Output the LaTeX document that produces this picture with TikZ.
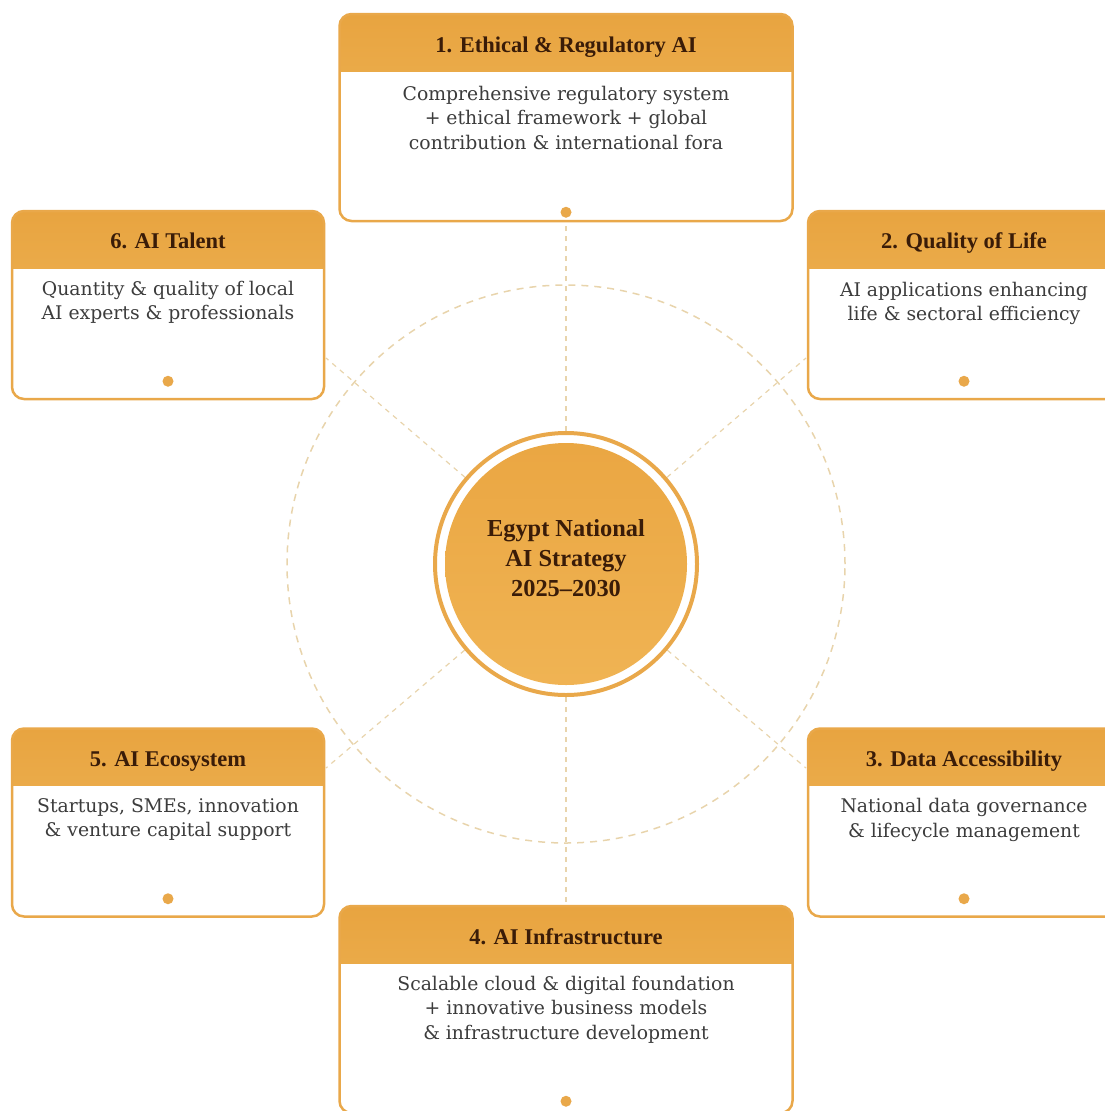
\documentclass[tikz,border=0pt]{standalone}
\usepackage{fontspec}
\setmainfont{DejaVu Serif}
\newfontfamily\headfont[Ligatures=TeX]{Liberation Serif}
\usepackage{xcolor}
\usepackage{tikz}
\usetikzlibrary{positioning,backgrounds}

\definecolor{amber}{RGB}{233,168,74}
\definecolor{hdrtop}{RGB}{232,164,64}
\definecolor{hdrbot}{RGB}{241,186,94}
\definecolor{hubtop}{RGB}{234,166,66}
\definecolor{hubbot}{RGB}{240,180,84}
\definecolor{titlebrown}{RGB}{58,28,8}
\definecolor{bodygray}{RGB}{60,60,60}
\definecolor{dashtan}{RGB}{232,212,172}

\begin{document}
\begin{tikzpicture}[x=1pt,y=-1pt,
    pillar/.style={rectangle,rounded corners=12pt,draw=amber,line width=2.5pt,fill=white,inner sep=0pt,
        path picture={\fill[sharp corners,top color=hdrtop,bottom color=hdrbot]
            (path picture bounding box.north west) rectangle ([yshift=-57pt]path picture bounding box.north east);}},
    widebox/.style={pillar,minimum width=453pt,minimum height=207pt},
    narrowbox/.style={pillar,minimum width=312pt,minimum height=188pt},
    ttl/.style={font=\headfont\bfseries\fontsize{22.5}{27}\selectfont,text=titlebrown,anchor=base,inner sep=0pt},
    txt/.style={font=\fontsize{18.8}{24.5}\selectfont,text=bodygray,align=center,anchor=north,inner sep=0pt},
    dot/.style={circle,fill=amber,minimum size=11pt,inner sep=0pt},
    hub/.style={circle,draw=amber,line width=4pt,fill=white,minimum size=262pt,inner sep=0pt,
        path picture={\shade[top color=hubtop,bottom color=hubbot]
            (path picture bounding box.center) circle (121pt);}},
    hubtext/.style={align=center,text=titlebrown,inner sep=0pt,font=\headfont\bfseries\fontsize{24.4}{30}\selectfont},
    spoke/.style={draw=dashtan,line width=1.2pt,dash pattern=on 5pt off 5pt},
    ring/.style={draw=dashtan,line width=1.5pt,dash pattern=on 7pt off 6pt}]

    \useasboundingbox (0,0) rectangle (1105,1111);

    \node[hub] (hub) at (566,564) {};
    \node[hubtext,yshift=6pt] (hubtxt) at (hub) {Egypt National\\AI Strategy\\2025--2030};

    \node[widebox] (b1) at (566,117.5) {};
    \node[ttl,yshift=-40pt] (t1) at (b1.north) {1. Ethical \& Regulatory AI};
    \node[txt,yshift=-73pt] (s1) at (b1.north) {Comprehensive regulatory system\\+ ethical framework + global\\contribution \& international fora};
    \node[dot,yshift=10pt] (d1) at (b1.south) {};

    \node[narrowbox] (b2) at (964,305) {};
    \node[ttl,yshift=-39pt] (t2) at (b2.north) {2. Quality of Life};
    \node[txt,yshift=-72pt] (s2) at (b2.north) {AI applications enhancing\\life \& sectoral efficiency};
    \node[dot,yshift=19pt] (d2) at (b2.south) {};

    \node[narrowbox] (b3) at (964,822.5) {};
    \node[ttl,yshift=-39pt] (t3) at (b3.north) {3. Data Accessibility};
    \node[txt,yshift=-71pt] (s3) at (b3.north) {National data governance\\\& lifecycle management};
    \node[dot,yshift=19pt] (d3) at (b3.south) {};

    \node[widebox] (b4) at (566,1009.5) {};
    \node[ttl,yshift=-40pt] (t4) at (b4.north) {4. AI Infrastructure};
    \node[txt,yshift=-71pt] (s4) at (b4.north) {Scalable cloud \& digital foundation\\+ innovative business models\\\& infrastructure development};
    \node[dot,yshift=13pt] (d4) at (b4.south) {};

    \node[narrowbox] (b5) at (168,822.5) {};
    \node[ttl,yshift=-39pt] (t5) at (b5.north) {5. AI Ecosystem};
    \node[txt,yshift=-71pt] (s5) at (b5.north) {Startups, SMEs, innovation\\\& venture capital support};
    \node[dot,yshift=19pt] (d5) at (b5.south) {};

    \node[narrowbox] (b6) at (168,305) {};
    \node[ttl,yshift=-39pt] (t6) at (b6.north) {6. AI Talent};
    \node[txt,yshift=-71pt] (s6) at (b6.north) {Quantity \& quality of local\\AI experts \& professionals};
    \node[dot,yshift=19pt] (d6) at (b6.south) {};

    \coordinate (c2) at (806,358);
    \coordinate (c3) at (806,768);
    \coordinate (c5) at (326,768);
    \coordinate (c6) at (326,358);

    \begin{pgfonlayer}{background}
        \draw[ring] (hub.center) circle (279pt);
        \path[spoke] (hub) -- (b1);
        \path[spoke] (hub) -- (b4);
        \path[spoke] (hub) -- (c2);
        \path[spoke] (hub) -- (c3);
        \path[spoke] (hub) -- (c5);
        \path[spoke] (hub) -- (c6);
    \end{pgfonlayer}
\end{tikzpicture}
\end{document}
